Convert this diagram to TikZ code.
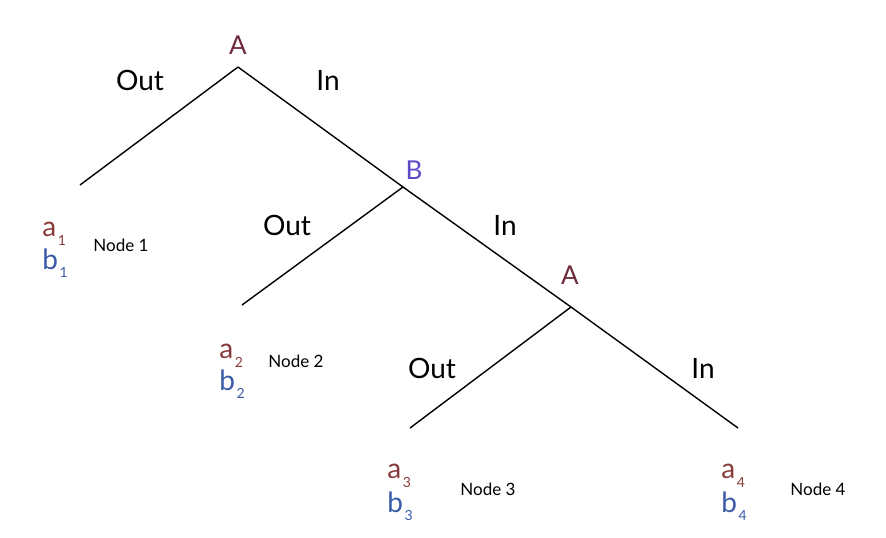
\documentclass[tikz,border=0pt]{standalone}
\usepackage{fontspec}
\setmainfont{Lato}
\usepackage{tikz}
\usetikzlibrary{positioning}

\definecolor{splitred}{RGB}{110,42,58}
\definecolor{splitblue}{RGB}{90,74,200}
\definecolor{ared}{RGB}{138,58,58}
\definecolor{bblue}{RGB}{58,90,168}

\newcommand{\leafsub}[1]{\hspace{0.8pt}\raisebox{-0.6ex}{\fontsize{7}{8}\selectfont #1}}

\begin{document}
\begin{tikzpicture}[x=0.5pt, y=-0.5pt,
  branch/.style={draw=black, line width=0.7pt},
  edgelbl/.style={font=\fontsize{14}{16}\selectfont, inner sep=1pt},
  splitA/.style={font=\fontsize{13}{15}\selectfont, text=splitred, inner sep=1pt},
  splitB/.style={font=\fontsize{13}{15}\selectfont, text=splitblue, inner sep=1pt},
  aval/.style={font=\fontsize{14}{16}\selectfont, text=ared, inner sep=0pt, anchor=west},
  bval/.style={font=\fontsize{14}{16}\selectfont, text=bblue, inner sep=0pt, anchor=west},
  leafname/.style={font=\fontsize{8.5}{10}\selectfont, inner sep=0pt, anchor=west}
]
\useasboundingbox (0,0) rectangle (886,537);

% junctions and leaf ends
\coordinate (jA1) at (238,67);
\coordinate (jB) at (403,187);
\coordinate (jA2) at (571,307);
\coordinate (e1) at (80,185);
\coordinate (e2) at (242,305);
\coordinate (e3) at (410,428);
\coordinate (e4) at (738,428);

\draw[branch] (jA1) -- (e1);
\draw[branch] (jA1) -- (jB);
\draw[branch] (jB) -- (e2);
\draw[branch] (jB) -- (jA2);
\draw[branch] (jA2) -- (e3);
\draw[branch] (jA2) -- (e4);

% split variables
\node[splitA] (sA1) at (238,45) {A};
\node[splitB] (sB) at (414,170) {B};
\node[splitA] (sA2) at (570,275) {A};

% branch labels
\node[edgelbl] (out1) at (140,80) {Out};
\node[edgelbl] (in1) at (328,80) {In};
\node[edgelbl] (out2) at (287,225) {Out};
\node[edgelbl] (in2) at (505,225) {In};
\node[edgelbl] (out3) at (432,368) {Out};
\node[edgelbl] (in3) at (703,368) {In};

% leaves
\node[aval] (a1) at (42,234) {a\leafsub{1}};
\node[bval] (b1) at (42,263) {b\leafsub{1}};
\node[leafname] (n1) at (93,245) {Node 1};
\node[aval] (a2) at (219,356) {a\leafsub{2}};
\node[bval] (b2) at (219,384) {b\leafsub{2}};
\node[leafname] (n2) at (268,361) {Node 2};
\node[aval] (a3) at (387,476) {a\leafsub{3}};
\node[bval] (b3) at (387,506) {b\leafsub{3}};
\node[leafname] (n3) at (460,489) {Node 3};
\node[aval] (a4) at (721,476) {a\leafsub{4}};
\node[bval] (b4) at (721,506) {b\leafsub{4}};
\node[leafname] (n4) at (790,489) {Node 4};

\end{tikzpicture}
\end{document}
